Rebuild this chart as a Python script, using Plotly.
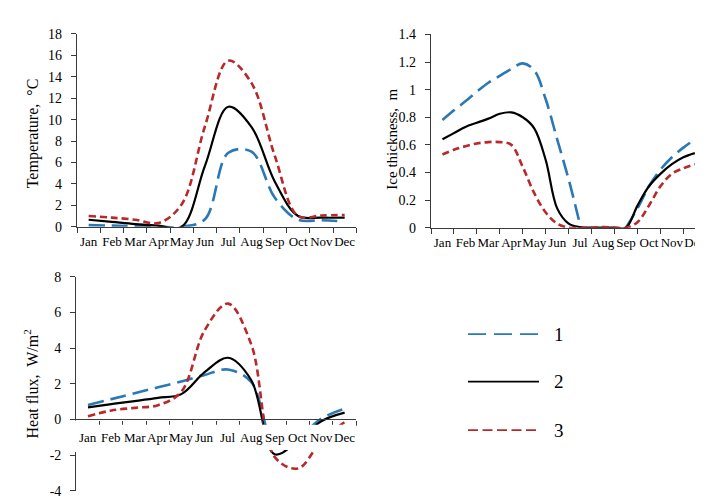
import plotly.graph_objects as go

W, H = 703, 498
FONT = "Liberation Serif"
AX = "#3a3a3a"

months = ["Jan", "Feb", "Mar", "Apr", "May", "Jun", "Jul", "Aug", "Sep", "Oct", "Nov", "Dec"]
month_idx = list(range(12))
half_idx = [i / 2 for i in range(23)]
boundaries = [i - 0.5 for i in range(13)]

# Temperature, degC (monthly)
temp_1 = [0.15, 0.1, 0.05, 0.0, 0.0, 0.7, 6.9, 7.0, 2.7, 0.65, 0.6, 0.5]
temp_2 = [0.65, 0.45, 0.25, 0.1, 0.0, 5.7, 11.2, 9.3, 4.2, 1.0, 0.85, 0.85]
temp_3 = [1.0, 0.85, 0.65, 0.35, 2.1, 9.4, 15.5, 13.4, 6.6, 1.0, 1.05, 1.1]

# Ice thickness, m (half-month resolution)
ice_1 = [0.78, 0.85, 0.915, 0.985, 1.05, 1.10, 1.15, 1.19, 1.14, 0.93, 0.64, 0.35,
         0.02, None, None, None, 0.0, 0.14, 0.30, 0.42, 0.51, 0.58, 0.64]
ice_2 = [0.64, 0.685, 0.73, 0.76, 0.79, 0.825, 0.835, 0.80, 0.72, 0.49, 0.14, 0.03,
         0.005, 0.0, 0.0, 0.0, 0.0, 0.16, 0.30, 0.39, 0.46, 0.51, 0.54]
ice_3 = [0.53, 0.565, 0.59, 0.61, 0.62, 0.62, 0.60, 0.44, 0.25, 0.11, 0.03, 0.0,
         0.0, 0.0, 0.005, 0.0, 0.0, 0.04, 0.16, 0.30, 0.39, 0.43, 0.46]

# Heat flux, W/m2 (monthly)
flux_1 = [0.81, 1.14, 1.47, 1.8, 2.13, 2.5, 2.8, 2.1, -1.3, -1.0, 0.05, 0.6]
flux_2 = [0.68, 0.86, 1.03, 1.21, 1.42, 2.65, 3.46, 2.2, -1.95, -1.2, -0.1, 0.38]
flux_3 = [0.18, 0.5, 0.65, 0.8, 1.55, 5.0, 6.5, 4.2, -2.1, -2.75, -1.2, -0.15]

series = ["1", "2", "3"]
colors = {"1": "#2a79b6", "2": "#000000", "3": "#b9282a"}
dashes = {"1": "16px,7px", "2": "solid", "3": "7px,4px"}
widths = {"1": 2.6, "2": 2.2, "3": 2.6}
legend_dashes = {"1": "18px,8px", "2": "solid", "3": "10px,4.5px"}

temp_y = [0, 2, 4, 6, 8, 10, 12, 14, 16, 18]
ice_y = [0, 0.2, 0.4, 0.6, 0.8, 1, 1.2, 1.4]
flux_y = [-4, -2, 0, 2, 4, 6, 8]
flux_y_text = ["-4", "-2", "0", "2", "4", "6", "8"]


def px(p):
    return p / W


def py(p):
    return 1 - p / H


fig = go.Figure()

panels = [
    ("x", "y", month_idx, [temp_1, temp_2, temp_3]),
    ("x2", "y2", half_idx, [ice_1, ice_2, ice_3]),
    ("x3", "y3", month_idx, [flux_1, flux_2, flux_3]),
]
for xa, ya, xs, ys in panels:
    for name, yv in zip(series, ys):
        fig.add_trace(go.Scatter(
            x=xs, y=yv, mode="lines", xaxis=xa, yaxis=ya, showlegend=False,
            connectgaps=False, name=name, hoverinfo="skip",
            line=dict(color=colors[name], width=widths[name], dash=dashes[name],
                      shape="spline", smoothing=1.0)))

month_font = dict(family=FONT, size=13, color="black")
ytick_font = dict(family=FONT, size=14, color="black")


def xax(domain, **kw):
    d = dict(domain=domain, range=[-0.5, 11.5], tickmode="array", tickvals=month_idx,
             ticktext=months, ticks="", tickangle=0, showline=True, linecolor=AX,
             linewidth=1.3, showgrid=False, zeroline=False, tickfont=month_font,
             minor=dict(tickmode="array", tickvals=boundaries, ticks="outside",
                        ticklen=5, tickwidth=1.3, tickcolor=AX, showgrid=False))
    d.update(kw)
    return d


def yax(domain, rng, vals, text=None, **kw):
    d = dict(domain=domain, range=rng, tickmode="array", tickvals=vals, ticks="outside",
             ticklen=5, tickwidth=1.3, tickcolor=AX, showline=True, linecolor=AX,
             linewidth=1.3, showgrid=False, zeroline=False, tickfont=ytick_font,
             ticklabelstandoff=6)
    if text is not None:
        d["ticktext"] = text
    d.update(kw)
    return d


flux_dom = [py(490.5), py(270)]
flux_rng = [-4, 8]
zero_pos = flux_dom[0] + (0 - flux_rng[0]) / (flux_rng[1] - flux_rng[0]) * (flux_dom[1] - flux_dom[0])

fig.update_layout(
    width=W, height=H, margin=dict(l=0, r=0, t=0, b=0),
    paper_bgcolor="white", plot_bgcolor="white",
    font=dict(family=FONT, color="black"),
    xaxis=xax([px(69), px(348.3)], anchor="y", ticklabelstandoff=3),
    yaxis=yax([py(218.3), py(19.5)], [0, 18], temp_y, anchor="x"),
    xaxis2=xax([px(423), px(698.3)], anchor="y2", ticklabelstandoff=3),
    yaxis2=yax([py(219.3), py(20)], [0, 1.4], ice_y, anchor="x2"),
    xaxis3=xax([px(68.3), px(348.3)], anchor="free", position=zero_pos,
               showticklabels=False),
    yaxis3=yax(flux_dom, flux_rng, flux_y, flux_y_text, anchor="x3"),
)

shapes = [
    # white band behind the heat-flux month labels
    dict(type="rect", xref="x3 domain", yref="y3", x0=-0.005, x1=1.0, y0=-0.3, y1=-1.72,
         fillcolor="white", line=dict(width=0), layer="above"),
    dict(type="rect", xref="x3 domain", yref="y3", x0=-0.02, x1=0.01, y0=-0.06, y1=-1.82,
         fillcolor="white", line=dict(width=0), layer="above"),
]

annotations = []
for m_i, m in zip(month_idx, months):
    annotations.append(dict(x=m_i, y=-1.0, xref="x3", yref="y3", text=m, showarrow=False,
                            font=month_font, xanchor="center", yanchor="middle"))

titles = [
    ("Temperature,  \u00b0C", 25, 122, 16),
    ("Ice thickness,  m", 384.5, 128, 15),
    ("Heat flux,  W/m<sup>2</sup>", 23, 381, 16),
]
for txt, tx, ty, fs in titles:
    annotations.append(dict(x=px(tx), y=py(ty), xref="paper", yref="paper", text=txt,
                            textangle=-90, showarrow=False, xanchor="center",
                            yanchor="middle",
                            font=dict(family=FONT, size=fs, color="black")))

# legend
legend_rows = {"1": 329, "2": 378, "3": 428}
legend_x0, legend_x1, label_x = 460, 531, 551
for name in series:
    yy = py(legend_rows[name])
    shapes.append(dict(type="line", xref="paper", yref="paper", x0=px(legend_x0),
                       x1=px(legend_x1), y0=yy, y1=yy,
                       line=dict(color=colors[name], width=1.8, dash=legend_dashes[name])))
    annotations.append(dict(x=px(label_x), y=yy, xref="paper", yref="paper", text=name,
                            showarrow=False, xanchor="center", yanchor="middle",
                            font=dict(family=FONT, size=19, color="black")))

fig.update_layout(shapes=shapes, annotations=annotations)

fig.write_html("out.html")
